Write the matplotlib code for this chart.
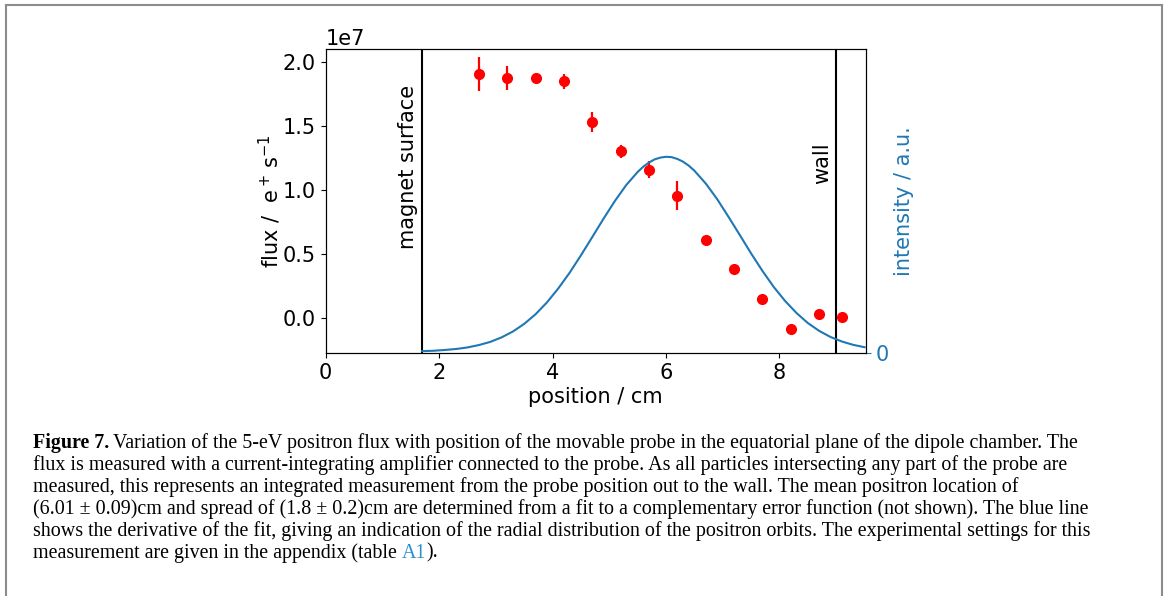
import matplotlib
matplotlib.use('Agg')
import matplotlib.pyplot as plt
from matplotlib.lines import Line2D

# measured flux vs probe position
position = [2.7, 3.2, 3.7, 4.2, 4.7, 5.2, 5.7, 6.2, 6.7, 7.2, 7.7, 8.2, 8.7, 9.1]
flux = [1.908e7, 1.877e7, 1.877e7, 1.848e7, 1.532e7, 1.300e7, 1.157e7,
        0.955e7, 0.608e7, 0.379e7, 0.146e7, -0.086e7, 0.031e7, 0.003e7]
flux_err = [0.135e7, 0.093e7, 0.02e7, 0.058e7, 0.078e7, 0.052e7, 0.068e7,
            0.116e7, 0.02e7, 0.02e7, 0.02e7, 0.02e7, 0.02e7, 0.02e7]

# derivative of the fit (blue line)
curve_x = [1.7, 1.9, 2.1, 2.3, 2.5, 2.7, 2.9, 3.1, 3.3, 3.5, 3.7, 3.9, 4.1, 4.3,
           4.5, 4.7, 4.9, 5.1, 5.3, 5.5, 5.6, 5.7, 5.8, 5.9, 6.0, 6.1, 6.2, 6.3,
           6.4, 6.5, 6.7, 6.9, 7.1, 7.3, 7.5, 7.7, 7.9, 8.1, 8.3, 8.5, 8.7, 8.9,
           9.1, 9.3, 9.5]
curve_y = [0.011, 0.013, 0.017, 0.022, 0.030, 0.042, 0.058, 0.081, 0.111, 0.150,
           0.199, 0.259, 0.330, 0.410, 0.499, 0.592, 0.686, 0.776, 0.857, 0.923,
           0.950, 0.971, 0.987, 0.996, 1.000, 0.998, 0.989, 0.975, 0.955, 0.929,
           0.864, 0.785, 0.695, 0.602, 0.508, 0.419, 0.337, 0.266, 0.205, 0.154,
           0.114, 0.083, 0.060, 0.043, 0.031]

magnet_pos = 1.7
wall_pos = 9.0

caption = [
    "Variation of the 5-eV positron flux with position of the movable probe in the equatorial plane of the dipole chamber. The",
    "flux is measured with a current-integrating amplifier connected to the probe. As all particles intersecting any part of the probe are",
    "measured, this represents an integrated measurement from the probe position out to the wall. The mean positron location of",
    "(6.01 \u00b1 0.09)cm and spread of (1.8 \u00b1 0.2)cm are determined from a fit to a complementary error function (not shown). The blue line",
    "shows the derivative of the fit, giving an indication of the radial distribution of the positron orbits. The experimental settings for this",
    "measurement are given in the appendix (table ",
]

blue = '#1f77b4'
plt.rcParams['font.family'] = 'DejaVu Sans'
plt.rcParams['font.size'] = 15

fig = plt.figure(figsize=(11.65, 5.96), dpi=100)
ax = fig.add_axes([0.2796, 0.4072, 0.4635, 0.5101])

ax.errorbar(position, flux, yerr=flux_err, fmt='o', color='red', ms=7, elinewidth=1.6, zorder=3)
ax.axvline(magnet_pos, color='black', lw=1.5)
ax.axvline(wall_pos, color='black', lw=1.5)
ax.text(1.62, 1.18e7, 'magnet surface', rotation=90, ha='right', va='center')
ax.text(8.92, 1.21e7, 'wall', rotation=90, ha='right', va='center')

ax.set_xlim(0, 9.52)
ax.set_ylim(-0.28e7, 2.10e7)
ax.set_xlabel('position / cm', labelpad=3)
ax.set_ylabel(r'flux /  $\mathrm{e^+\,s^{-1}}$', labelpad=0)

ax2 = ax.twinx()
ax2.plot(curve_x, curve_y, color=blue, lw=1.5)
ax2.set_ylim(0, 1.547)
ax2.set_yticks([0])
ax2.tick_params(axis='y', colors=blue)
ax2.spines['right'].set_color('black')
ax2.set_ylabel('intensity / a.u.', color=blue)

# caption
cap_font = dict(family='Liberation Serif', fontsize=14.4)
x0 = 33 / 1165
ys = [443, 465, 487, 509, 531, 553]
fig.canvas.draw()
renderer = fig.canvas.get_renderer()
for i, line in enumerate(caption):
    y = 1 - ys[i] / 596
    x = x0
    if i == 0:
        t = fig.text(x, y, 'Figure 7.', fontweight='bold', va='center', **cap_font)
        x = t.get_window_extent(renderer).x1 / 1165 + 4 / 1165
    t = fig.text(x, y, line, va='center', **cap_font)
    if i == len(caption) - 1:
        x = t.get_window_extent(renderer).x1 / 1165
        t = fig.text(x, y, 'A1', color='#2b8fd1', va='center', **cap_font)
        x = t.get_window_extent(renderer).x1 / 1165
        fig.text(x, y, ').', va='center', **cap_font)

# grey frame (top, left, right)
frame = dict(color='#8c8c8c', lw=1.5, transform=fig.transFigure)
fig.add_artist(Line2D([6 / 1165, 1162 / 1165], [1 - 5 / 596, 1 - 5 / 596], **frame))
fig.add_artist(Line2D([6 / 1165, 6 / 1165], [0, 1 - 5 / 596], **frame))
fig.add_artist(Line2D([1162 / 1165, 1162 / 1165], [0, 1 - 5 / 596], **frame))

fig.savefig('out.png', dpi=100)
